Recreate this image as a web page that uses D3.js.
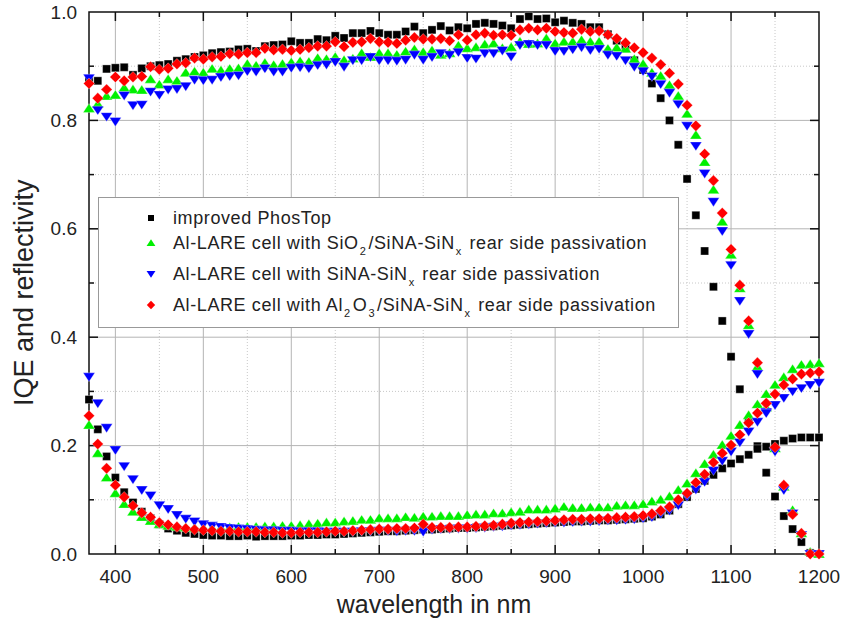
<!DOCTYPE html>
<html>
<head>
<meta charset="utf-8">
<script src="https://cdn.jsdelivr.net/npm/d3@7"></script>
<style>
  html, body { margin: 0; padding: 0; background: #fff; }
  svg { display: block; font-family: "Liberation Sans", Arial, sans-serif; }
</style>
</head>
<body>
<svg id="chart" width="844" height="624"></svg>
<script>
// Wavelength grid (nm)
const wavelengths = [370,380,390,400,410,420,430,440,450,460,470,480,490,500,510,520,530,540,550,560,
  570,580,590,600,610,620,630,640,650,660,670,680,690,700,710,720,730,740,750,760,
  770,780,790,800,810,820,830,840,850,860,870,880,890,900,910,920,930,940,950,960,
  970,980,990,1000,1010,1020,1030,1040,1050,1060,1070,1080,1090,1100,1110,1120,1130,1140,1150,1160,
  1170,1180,1190,1200];

// Internal quantum efficiency
const iqePhosTop = [0.875,0.873,0.895,0.897,0.898,0.884,0.896,0.900,0.902,0.904,0.910,0.913,0.917,0.920,0.924,0.926,0.927,0.931,0.932,0.928,
  0.937,0.939,0.940,0.946,0.943,0.943,0.950,0.948,0.956,0.952,0.961,0.961,0.965,0.961,0.958,0.958,0.964,0.973,0.961,0.967,
  0.974,0.966,0.972,0.970,0.978,0.980,0.978,0.975,0.970,0.987,0.992,0.987,0.988,0.981,0.984,0.980,0.978,0.972,0.972,0.959,
  0.947,0.933,0.911,0.893,0.868,0.841,0.800,0.755,0.692,0.625,0.559,0.493,0.430,0.364,0.304,0.245,0.199,0.150,0.106,0.070,
  0.046,0.022,0.002,0.000];
const iqeSiO2 = [0.822,0.830,0.845,0.847,0.860,0.857,0.856,0.876,0.866,0.876,0.873,0.888,0.890,0.888,0.895,0.892,0.895,0.896,0.904,0.901,
  0.906,0.902,0.904,0.907,0.909,0.908,0.915,0.913,0.917,0.911,0.914,0.924,0.917,0.924,0.924,0.921,0.927,0.931,0.926,0.929,
  0.921,0.924,0.938,0.933,0.935,0.940,0.942,0.933,0.935,0.945,0.941,0.942,0.951,0.942,0.945,0.945,0.948,0.945,0.945,0.932,
  0.934,0.932,0.913,0.904,0.888,0.882,0.865,0.845,0.812,0.773,0.723,0.672,0.613,0.552,0.490,0.422,0.345,0.270,0.195,0.124,
  0.081,0.038,0.004,0.000];
const iqeSiNA = [0.878,0.819,0.807,0.798,0.846,0.828,0.829,0.853,0.847,0.857,0.858,0.863,0.875,0.874,0.875,0.880,0.882,0.883,0.891,0.890,
  0.896,0.890,0.890,0.897,0.898,0.896,0.902,0.903,0.908,0.899,0.911,0.911,0.917,0.911,0.911,0.910,0.912,0.921,0.912,0.917,
  0.924,0.921,0.926,0.915,0.914,0.924,0.924,0.929,0.918,0.939,0.941,0.939,0.939,0.928,0.928,0.931,0.935,0.930,0.932,0.921,
  0.919,0.911,0.899,0.891,0.881,0.867,0.851,0.830,0.790,0.753,0.702,0.650,0.596,0.533,0.467,0.406,0.332,0.262,0.189,0.118,
  0.075,0.035,0.000,0.000];
const iqeAl2O3 = [0.868,0.841,0.857,0.880,0.873,0.880,0.881,0.899,0.894,0.896,0.904,0.906,0.915,0.913,0.917,0.918,0.923,0.922,0.925,0.925,
  0.933,0.930,0.931,0.929,0.931,0.934,0.937,0.937,0.945,0.936,0.944,0.945,0.951,0.945,0.944,0.942,0.948,0.953,0.950,0.950,
  0.951,0.947,0.958,0.948,0.958,0.961,0.957,0.958,0.957,0.967,0.970,0.967,0.970,0.964,0.962,0.961,0.968,0.964,0.965,0.958,
  0.951,0.943,0.934,0.925,0.915,0.903,0.887,0.867,0.828,0.790,0.738,0.689,0.629,0.562,0.496,0.430,0.353,0.278,0.197,0.127,
  0.073,0.038,0.000,0.000];

// Reflectivity
const reflPhosTop = [0.285,0.230,0.180,0.141,0.114,0.095,0.078,0.066,0.055,0.047,0.043,0.039,0.037,0.035,0.034,0.034,0.033,0.033,0.034,0.032,
  0.033,0.033,0.033,0.034,0.034,0.035,0.035,0.036,0.036,0.037,0.038,0.039,0.040,0.041,0.042,0.042,0.043,0.044,0.045,0.045,
  0.046,0.047,0.048,0.048,0.049,0.050,0.051,0.052,0.053,0.054,0.055,0.056,0.057,0.058,0.059,0.060,0.060,0.061,0.062,0.062,
  0.063,0.064,0.065,0.066,0.069,0.073,0.080,0.092,0.105,0.120,0.135,0.146,0.158,0.167,0.175,0.183,0.194,0.198,0.203,0.209,
  0.213,0.215,0.215,0.215];
const reflSiO2 = [0.238,0.186,0.141,0.112,0.092,0.078,0.068,0.061,0.055,0.052,0.050,0.049,0.048,0.048,0.048,0.048,0.049,0.050,0.050,0.050,
  0.051,0.051,0.052,0.052,0.053,0.055,0.056,0.058,0.058,0.060,0.061,0.063,0.063,0.066,0.066,0.066,0.068,0.067,0.069,0.069,
  0.070,0.070,0.070,0.072,0.073,0.073,0.075,0.075,0.077,0.078,0.082,0.082,0.082,0.084,0.087,0.085,0.085,0.086,0.086,0.086,
  0.089,0.090,0.090,0.092,0.097,0.100,0.106,0.118,0.130,0.149,0.166,0.183,0.201,0.218,0.238,0.256,0.276,0.295,0.312,0.326,
  0.341,0.349,0.350,0.352];
const reflSiNA = [0.327,0.278,0.233,0.192,0.162,0.138,0.118,0.108,0.090,0.083,0.072,0.065,0.060,0.055,0.052,0.050,0.048,0.047,0.046,0.045,
  0.044,0.044,0.043,0.043,0.042,0.042,0.042,0.041,0.041,0.041,0.041,0.042,0.042,0.043,0.043,0.042,0.043,0.043,0.041,0.045,
  0.046,0.046,0.047,0.047,0.048,0.049,0.050,0.051,0.053,0.054,0.055,0.056,0.057,0.058,0.058,0.059,0.060,0.060,0.061,0.062,
  0.062,0.063,0.064,0.066,0.068,0.074,0.080,0.090,0.106,0.119,0.133,0.154,0.172,0.189,0.206,0.226,0.244,0.260,0.275,0.288,
  0.300,0.306,0.312,0.316];
const reflAl2O3 = [0.255,0.203,0.158,0.127,0.105,0.089,0.076,0.068,0.058,0.054,0.050,0.047,0.045,0.044,0.043,0.042,0.042,0.041,0.041,0.041,
  0.040,0.040,0.039,0.039,0.040,0.040,0.040,0.041,0.042,0.042,0.043,0.044,0.045,0.046,0.046,0.047,0.047,0.048,0.055,0.049,
  0.049,0.049,0.050,0.050,0.051,0.052,0.053,0.055,0.057,0.058,0.059,0.060,0.061,0.062,0.063,0.064,0.064,0.065,0.065,0.066,
  0.067,0.068,0.069,0.071,0.074,0.080,0.087,0.100,0.112,0.132,0.147,0.169,0.186,0.201,0.220,0.242,0.260,0.278,0.295,0.312,
  0.323,0.332,0.334,0.336];

const xTicks = [400,500,600,700,800,900,1000,1100,1200];
const yTicks = [0.0,0.2,0.4,0.6,0.8,1.0];
const minorX = [450,550,650,750,850,950,1050,1150];
const minorY = [0.1,0.3,0.5,0.7,0.9];

// Legend entries; sub marks a subscript run
const legendRows = [
  [{ t: "improved PhosTop" }],
  [{ t: "Al-LARE cell with SiO" }, { t: "2", sub: true }, { t: "/SiNA-SiN" }, { t: "x", sub: true }, { t: " rear side passivation" }],
  [{ t: "Al-LARE cell with SiNA-SiN" }, { t: "x", sub: true }, { t: " rear side passivation" }],
  [{ t: "Al-LARE cell with Al" }, { t: "2", sub: true }, { t: "O" }, { t: "3", sub: true }, { t: "/SiNA-SiN" }, { t: "x", sub: true }, { t: " rear side passivation" }]
];

// Marker shapes
const square = { draw(ctx, s) { const h = s / 2; ctx.rect(-h, -h, s, s); } };
const triUp = { draw(ctx, s) { const w = s * 0.62, h = s * 0.52; ctx.moveTo(0, -h); ctx.lineTo(w, h * 0.8); ctx.lineTo(-w, h * 0.8); ctx.closePath(); } };
const triDown = { draw(ctx, s) { const w = s * 0.62, h = s * 0.52; ctx.moveTo(0, h); ctx.lineTo(w, -h * 0.8); ctx.lineTo(-w, -h * 0.8); ctx.closePath(); } };
const diamond = { draw(ctx, s) { const h = s * 0.68; ctx.moveTo(0, -h); ctx.lineTo(h, 0); ctx.lineTo(0, h); ctx.lineTo(-h, 0); ctx.closePath(); } };

const series = [
  { iqe: iqePhosTop, refl: reflPhosTop, color: "#000000", shape: square, size: 8 },
  { iqe: iqeSiO2, refl: reflSiO2, color: "#00f000", shape: triUp, size: 9.5 },
  { iqe: iqeSiNA, refl: reflSiNA, color: "#0000ff", shape: triDown, size: 9.5 },
  { iqe: iqeAl2O3, refl: reflAl2O3, color: "#ff0000", shape: diamond, size: 8.2 }
];

const W = 844, H = 624;
const margin = { left: 89, top: 12, right: 25, bottom: 70 };
const svg = d3.select("#chart");
const x = d3.scaleLinear().domain([370, 1200]).range([margin.left, W - margin.right]);
const y = d3.scaleLinear().domain([0, 1]).range([H - margin.bottom, margin.top]);
const x0 = x.range()[0], x1 = x.range()[1], y0 = y.range()[0], y1 = y.range()[1];

// Grid: minor dotted, major solid
const grid = svg.append("g");
grid.selectAll(".mx").data(minorX).join("line")
  .attr("x1", d => x(d)).attr("x2", d => x(d)).attr("y1", y1).attr("y2", y0)
  .attr("stroke", "#c8c8c8").attr("stroke-width", 1).attr("stroke-dasharray", "1,2");
grid.selectAll(".my").data(minorY).join("line")
  .attr("x1", x0).attr("x2", x1).attr("y1", d => y(d)).attr("y2", d => y(d))
  .attr("stroke", "#c8c8c8").attr("stroke-width", 1).attr("stroke-dasharray", "1,2");
grid.selectAll(".Mx").data(xTicks.filter(d => d < 1200)).join("line")
  .attr("x1", d => x(d)).attr("x2", d => x(d)).attr("y1", y1).attr("y2", y0)
  .attr("stroke", "#b4b4b4").attr("stroke-width", 1);
grid.selectAll(".My").data(yTicks.filter(d => d > 0 && d < 1)).join("line")
  .attr("x1", x0).attr("x2", x1).attr("y1", d => y(d)).attr("y2", d => y(d))
  .attr("stroke", "#b4b4b4").attr("stroke-width", 1);

// Inward ticks on all four sides
const axes = svg.append("g").attr("fill", "none").attr("stroke", "#111").attr("stroke-width", 1.5);
const allX = xTicks.concat(minorX).filter(d => d < 1200);
const allY = yTicks.concat(minorY).filter(d => d > 0 && d < 1);
const len = (major) => major ? 9 : 5;
allX.forEach(d => {
  const m = xTicks.includes(d);
  axes.append("line").attr("x1", x(d)).attr("x2", x(d)).attr("y1", y0).attr("y2", y0 - len(m));
  axes.append("line").attr("x1", x(d)).attr("x2", x(d)).attr("y1", y1).attr("y2", y1 + len(m));
});
allY.forEach(d => {
  const m = yTicks.includes(d);
  axes.append("line").attr("x1", x0).attr("x2", x0 + len(m)).attr("y1", y(d)).attr("y2", y(d));
  axes.append("line").attr("x1", x1).attr("x2", x1 - len(m)).attr("y1", y(d)).attr("y2", y(d));
});
axes.append("rect").attr("x", x0).attr("y", y1).attr("width", x1 - x0).attr("height", y0 - y1);

// Tick labels
svg.append("g").selectAll("text").data(xTicks).join("text")
  .attr("x", d => x(d)).attr("y", y0 + 29).attr("text-anchor", "middle")
  .attr("font-size", 19).attr("fill", "#222").text(d => d);
svg.append("g").selectAll("text").data(yTicks).join("text")
  .attr("x", x0 - 12).attr("y", d => y(d)).attr("dy", "0.35em").attr("text-anchor", "end")
  .attr("font-size", 19).attr("fill", "#222").text(d => d.toFixed(1));

// Axis titles
svg.append("text").attr("x", 434).attr("y", 613).attr("text-anchor", "middle")
  .attr("font-size", 25).attr("fill", "#222").text("wavelength in nm");
svg.append("text").attr("transform", "translate(33,406) rotate(-90)")
  .attr("text-anchor", "start").attr("font-size", 27).attr("fill", "#222").text("IQE and reflectivity");

// Data markers
const plot = svg.append("g");
series.forEach(s => {
  const sym = d3.symbol().type(s.shape).size(s.size);
  [s.iqe, s.refl].forEach(vals => {
    plot.append("g").selectAll("path").data(wavelengths.map((w, i) => [w, vals[i]])).join("path")
      .attr("d", sym)
      .attr("transform", d => "translate(" + x(d[0]) + "," + y(d[1]) + ")")
      .attr("fill", s.color).attr("stroke", "#ffffff").attr("stroke-opacity", 0.55).attr("stroke-width", 0.6);
  });
});

// Legend
const lg = svg.append("g");
lg.append("rect").attr("x", 98.5).attr("y", 197.5).attr("width", 580).attr("height", 130)
  .attr("fill", "#fff").attr("stroke", "#999").attr("stroke-width", 1);
const rowY = [218, 243, 274, 305];
series.forEach((s, i) => {
  lg.append("path").attr("d", d3.symbol().type(s.shape).size(s.size * 0.75)())
    .attr("transform", "translate(151," + rowY[i] + ")").attr("fill", s.color);
  const t = lg.append("text").attr("x", 173).attr("y", rowY[i]).attr("dy", "0.35em")
    .attr("font-size", 18).attr("letter-spacing", 0.6).attr("fill", "#222");
  let lowered = false;
  legendRows[i].forEach(p => {
    const ts = t.append("tspan").text(p.t);
    if (p.sub) {
      ts.attr("font-size", 11).attr("dy", 6).attr("dx", 1);
      lowered = true;
    } else if (lowered) {
      ts.attr("dy", -6).attr("dx", 2);
      lowered = false;
    }
  });
});
</script>
</body>
</html>
